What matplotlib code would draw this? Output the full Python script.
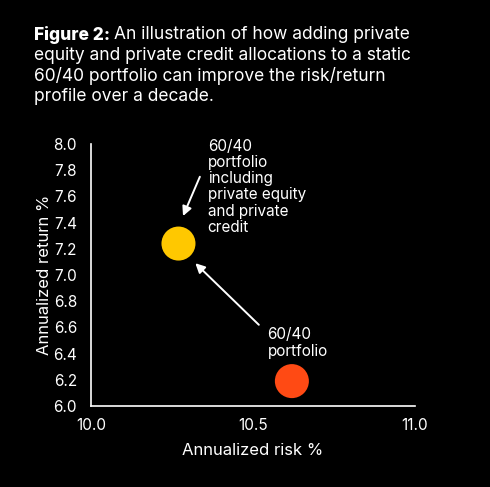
import matplotlib.pyplot as plt

# data
risk = [10.27, 10.62]
ret = [7.24, 6.19]
colors = ["#FFC800", "#FF4A14"]
x_ticks = [10.0, 10.5, 11.0]
y_ticks = [6.0, 6.2, 6.4, 6.6, 6.8, 7.0, 7.2, 7.4, 7.6, 7.8, 8.0]

plt.rcParams["font.family"] = ["Inter", "DejaVu Sans"]

fig = plt.figure(figsize=(4.9, 4.87), dpi=100, facecolor="black")
ax = fig.add_axes([91 / 490, (487 - 406) / 487, (415 - 91) / 490, (406 - 144) / 487])
ax.set_facecolor("black")

ax.scatter(risk, ret, s=600, c=colors, zorder=3, linewidths=0)

ax.set_xlim(10.0, 11.0)
ax.set_ylim(6.0, 8.0)
ax.set_xticks(x_ticks)
ax.set_xticklabels([f"{v:.1f}" for v in x_ticks])
ax.set_yticks(y_ticks)
ax.set_yticklabels([f"{v:.1f}" for v in y_ticks])
ax.tick_params(colors="white", length=0, labelsize=11)
ax.tick_params(axis="x", pad=9)
ax.tick_params(axis="y", pad=10)

for side in ["top", "right"]:
    ax.spines[side].set_visible(False)
for side in ["left", "bottom"]:
    ax.spines[side].set_color("white")
    ax.spines[side].set_linewidth(1.2)

ax.set_xlabel("Annualized risk %", color="white", fontsize=12, labelpad=7)
ax.set_ylabel("Annualized return %", color="white", fontsize=12, labelpad=1)

# annotations
arrow = dict(arrowstyle="-|>", color="white", lw=1.4, mutation_scale=14,
             shrinkA=0, shrinkB=0)
ax.annotate("", xy=(10.284, 7.45), xytext=(10.336, 7.75), arrowprops=arrow)
ax.text(10.36, 8.04, "60/40\nportfolio\nincluding\nprivate equity\nand private\ncredit",
        color="white", fontsize=11, va="top", ha="left", linespacing=1.1)

ax.annotate("", xy=(10.322, 7.09), xytext=(10.518, 6.62), arrowprops=arrow)
ax.text(10.545, 6.6, "60/40\nportfolio", color="white", fontsize=11,
        va="top", ha="left", linespacing=1.1)

# title: bold lead-in followed by regular text
title_x = 34 / 490
title_y = 1 - 26 / 487
lead = fig.text(title_x, title_y, "Figure 2:", color="white", fontsize=12.5,
                fontweight="heavy", va="top", ha="left")
fig.canvas.draw()
bb = lead.get_window_extent().transformed(fig.transFigure.inverted())
fig.text(bb.x1 + 4 / 490, title_y, "An illustration of how adding private",
         color="white", fontsize=12.5, va="top", ha="left")
fig.text(title_x, title_y - 21 / 487,
         "equity and private credit allocations to a static\n"
         "60/40 portfolio can improve the risk/return\n"
         "profile over a decade.",
         color="white", fontsize=12.5, va="top", ha="left", linespacing=1.24)

fig.savefig("out.png", dpi=100, facecolor="black")
